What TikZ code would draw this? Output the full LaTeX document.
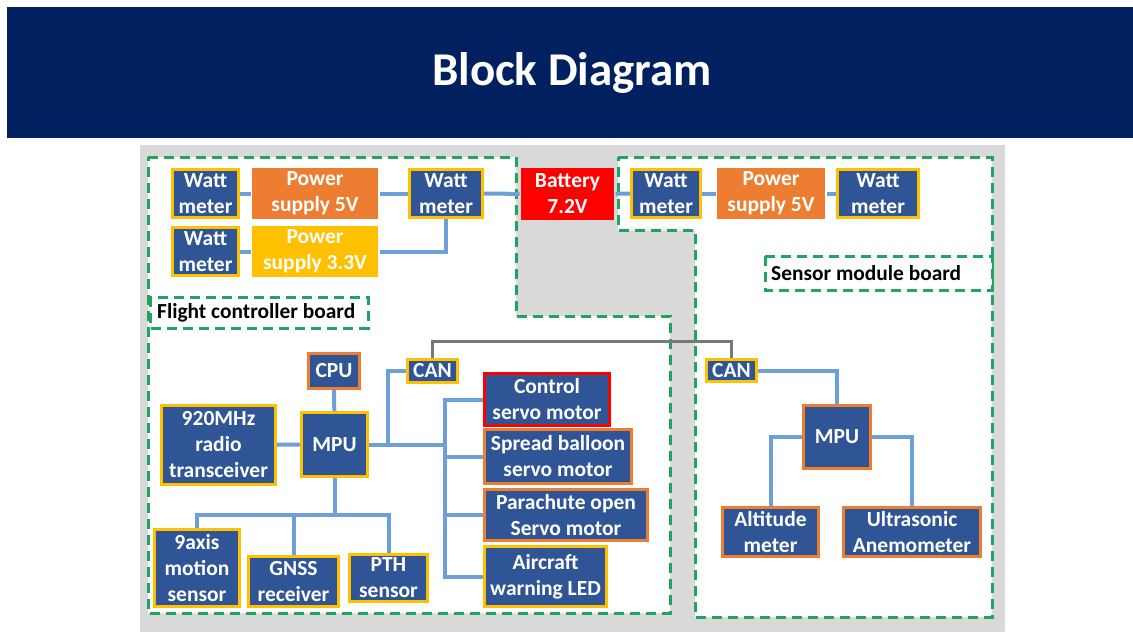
\documentclass[tikz,border=0pt]{standalone}
\usepackage{fontspec}
\setmainfont{Carlito}
\definecolor{navy}{RGB}{0,32,96}
\definecolor{boxblue}{RGB}{47,85,151}
\definecolor{wire}{RGB}{108,160,214}
\definecolor{canwire}{RGB}{120,120,120}
\definecolor{yel}{RGB}{255,192,0}
\definecolor{org}{RGB}{237,125,49}
\definecolor{boardgreen}{RGB}{30,165,95}
\definecolor{bggray}{RGB}{217,217,217}
\tikzset{
  blk/.style={fill=boxblue, line width=3pt, text=white, align=center, inner sep=0pt,
    font=\fontsize{21.5}{26}\selectfont\bfseries},
  supply/.style={blk, draw=none},
  link/.style={draw=wire, line width=4pt},
  canlink/.style={draw=canwire, line width=3pt},
  board/.style={draw=boardgreen, line width=3pt, dash pattern=on 10pt off 6pt, fill=white},
  boardlabel/.style={font=\fontsize{21.4}{26}\selectfont\bfseries, anchor=west, inner sep=0pt}
}
\begin{document}
\begin{tikzpicture}[x=1pt,y=-1pt]
  \useasboundingbox (0,0) rectangle (1133,642);
  % ------ title -----------------------------
  \fill[navy] (7,7) rectangle (1133,138);
  \node[text=white, font=\fontsize{47}{54}\selectfont\bfseries] (title) at (572,73) {Block Diagram};
  % ------ boards -----------------------------
  \fill[bggray] (140,145) rectangle (1005,632);
  \draw[board] (148,157)--(516,157)--(516,316)--(670,316)--(670,613)--(148,613)--cycle;
  \draw[board] (618,157)--(992,157)--(992,617)--(695,617)--(695,230)--(618,230)--cycle;
  \draw[board] (150,297) rectangle (368,328);
  \node[boardlabel] (fclabel) at (157,313) {Flight controller board};
  \draw[board] (765,256) rectangle (992,290);
  \node[boardlabel] (smlabel) at (771,273) {Sensor module board};
  % ------ power -----------------------------
  \node[blk, draw=yel, minimum width=66pt, minimum height=48pt] (wmA) at (205.5,193.5) {Watt\\meter};
  \node[supply, fill=org, minimum width=126pt, minimum height=51pt] (psA) at (315,193.5) {Power\\supply 5V};
  \node[blk, draw=yel, minimum width=73pt, minimum height=48pt] (wmB) at (446,193.5) {Watt\\meter};
  \node[blk, draw=yel, minimum width=66pt, minimum height=48pt] (wmC) at (205.5,251.5) {Watt\\meter};
  \node[supply, fill=yel, minimum width=126pt, minimum height=51pt] (psB) at (315,251.5) {Power\\supply 3.3V};
  \node[supply, fill=red, minimum width=93pt, minimum height=52pt] (bat) at (567.5,194) {Battery\\7.2V};
  \node[blk, draw=yel, minimum width=69pt, minimum height=48pt] (wmD) at (666,193.5) {Watt\\meter};
  \node[supply, fill=org, minimum width=108pt, minimum height=51pt] (psC) at (771,193.5) {Power\\supply 5V};
  \node[blk, draw=yel, minimum width=81pt, minimum height=48pt] (wmE) at (878,193.5) {Watt\\meter};
  % ------ flight controller -----------------------------
  \node[blk, draw=org, minimum width=51pt, minimum height=35pt] (cpu) at (334,371) {CPU};
  \node[blk, draw=yel, minimum width=66pt, minimum height=64pt] (mpuA) at (334.5,444.5) {MPU};
  \node[blk, draw=yel, minimum width=114pt, minimum height=79pt] (radio) at (218.5,445) {920MHz\\radio\\transceiver};
  \node[blk, draw=yel, minimum width=85pt, minimum height=77pt] (axis) at (197,568) {9axis\\motion\\sensor};
  \node[blk, draw=yel, minimum width=90pt, minimum height=50pt] (gnss) at (293.5,581.5) {GNSS\\receiver};
  \node[blk, draw=yel, minimum width=78pt, minimum height=47pt] (pth) at (388.5,578) {PTH\\sensor};
  \node[blk, draw=yel, minimum width=50pt, minimum height=23pt] (canA) at (432.5,371) {CAN};
  \node[blk, draw=red, minimum width=125pt, minimum height=52pt] (ctrl) at (547,399.5) {Control\\servo motor};
  \node[blk, draw=org, minimum width=147pt, minimum height=54pt] (sprd) at (558,456.5) {Spread balloon\\servo motor};
  \node[blk, draw=org, minimum width=163pt, minimum height=51pt] (para) at (566,515) {Parachute open\\Servo motor};
  \node[blk, draw=yel, minimum width=122pt, minimum height=60pt] (led) at (545.5,576.5) {Aircraft\\warning LED};
  % ------ sensor module -----------------------------
  \node[blk, draw=yel, minimum width=50pt, minimum height=22pt] (canB) at (731.5,370.5) {CAN};
  \node[blk, draw=org, minimum width=67pt, minimum height=63pt] (mpuB) at (837,437) {MPU};
  \node[blk, draw=org, minimum width=96pt, minimum height=49pt] (alt) at (770.5,532) {Altitude\\meter};
  \node[blk, draw=org, minimum width=137pt, minimum height=49pt] (ultra) at (912,532) {Ultrasonic\\Anemometer};
  % ------ wires -----------------------------
  \coordinate (sbus) at (334.5,515);
  \coordinate (tap) at (388,444.5);
  \coordinate (vbus) at (445,444.5);
  \coordinate (cbus) at (432.5,341);
  \draw[link] (wmA) -- (psA);
  \draw[link] (psA) -- (wmB);
  \draw[link] (wmB) -- (bat);
  \draw[link] (bat) -- (wmD);
  \draw[link] (wmD) -- (psC);
  \draw[link] (psC) -- (wmE);
  \draw[link] (wmC) -- (psB);
  \draw[link] (psB.east) -| (wmB.south);
  \draw[link] (cpu) -- (mpuA);
  \draw[link] (radio) -- (mpuA);
  \draw[link] (mpuA.south) -- (sbus);
  \draw[link] (axis.north) |- (sbus) -| (pth.north);
  \draw[link] (gnss.north) -- (gnss.north |- sbus);
  \draw[link] (mpuA.east) -- (vbus);
  \draw[link] (canA.west) -| (tap);
  \draw[link] (ctrl.west) -| (vbus) |- (led.west);
  \draw[link] (sprd.west) -- (sprd.west -| vbus);
  \draw[link] (para.west) -- (para.west -| vbus);
  \draw[canlink] (canA.north) -- (cbus) -| (canB.north);
  \draw[link] (canB.east) -| (mpuB.north);
  \draw[link] (mpuB.west) -| (alt.north);
  \draw[link] (mpuB.east) -| (ultra.north);
\end{tikzpicture}
\end{document}
